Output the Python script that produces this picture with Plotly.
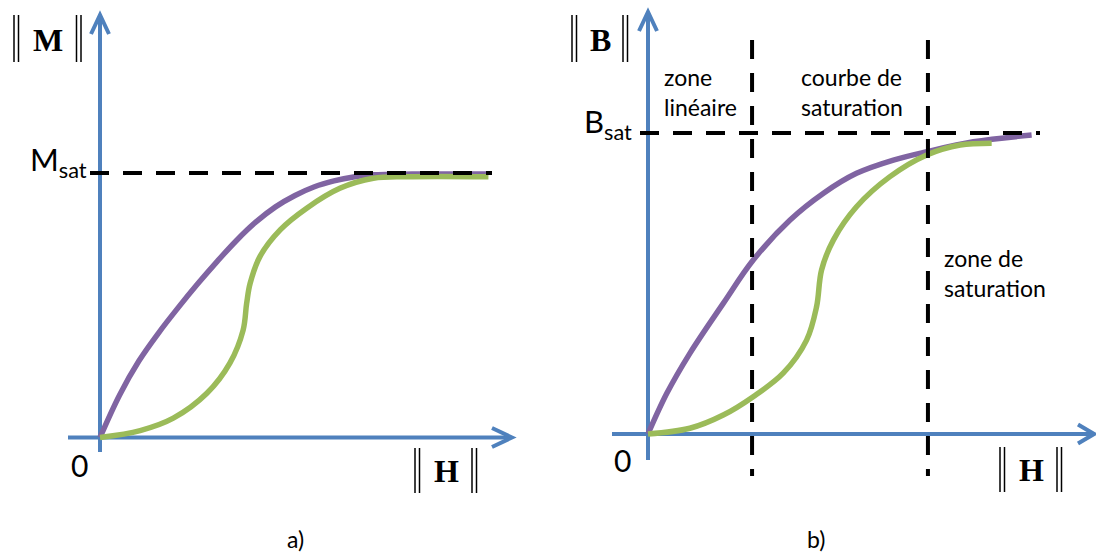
import plotly.graph_objects as go

# ---------------------------------------------------------------
# Data : courbes d'aimantation (unités arbitraires, sat = 1)
# ---------------------------------------------------------------
# a) M(H)
H_a_violet = [0.0, 0.5, 1.0, 1.5, 2.0, 2.5, 3.0, 3.5, 4.0, 4.5, 5.0, 5.5, 6.0, 6.5, 7.0, 8.0, 9.9]
M_a_violet = [0.0, 0.16, 0.29, 0.395, 0.49, 0.58, 0.665, 0.745, 0.815, 0.872, 0.915, 0.948, 0.970, 0.985, 0.993, 0.996, 0.996]
H_a_vert = [0.0, 1.03, 1.88, 2.74, 3.33, 3.67, 3.76, 3.85, 4.10, 4.62, 5.30, 6.15, 7.01, 7.86, 9.96]
M_a_vert = [0.0, 0.026, 0.073, 0.167, 0.281, 0.406, 0.507, 0.583, 0.684, 0.785, 0.867, 0.942, 0.980, 0.986, 0.986]
M_sat = 1.0

# b) B(H)
H_b_violet = [0.0, 0.49, 1.09, 1.96, 2.74, 3.70, 4.57, 5.43, 6.39, 7.26, 8.47, 9.99]
B_b_violet = [0.0, 0.135, 0.268, 0.434, 0.578, 0.711, 0.800, 0.866, 0.910, 0.938, 0.971, 0.993]
H_b_vert = [0.0, 1.09, 1.96, 2.74, 3.52, 4.13, 4.39, 4.52, 4.83, 5.43, 6.30, 7.26, 8.13, 8.95]
B_b_vert = [0.0, 0.019, 0.063, 0.124, 0.202, 0.312, 0.423, 0.545, 0.645, 0.755, 0.855, 0.927, 0.960, 0.966]
B_sat = 1.0
zone_limits = [2.71, 7.29]   # linéaire | courbe de saturation | saturation

# ---------------------------------------------------------------
# Géométrie de la figure
# ---------------------------------------------------------------
W, HT = 1096, 554
BLUE, VIOLET, GREEN = "#4f81bd", "#8064a2", "#9bbb59"
SANS, SERIF = "Lato", "Liberation Serif"

panels = {
    "a": dict(xr="x", yr="y", ox=100.0, oy=437.5, sx=39.0, sy=264.5, dom=(0.0, 0.5)),
    "b": dict(xr="x2", yr="y2", ox=648.0, oy=434.0, sx=38.4, sy=301.0, dom=(0.5, 1.0)),
}


def hx(p, px):
    """pixel column -> H value of panel p"""
    q = panels[p]
    return (px - q["ox"]) / q["sx"]


def vy(p, py):
    """pixel row -> ordinate value of panel p"""
    q = panels[p]
    return (q["oy"] - py) / q["sy"]


def paper(px, py):
    return px / W, 1 - py / HT


fig = go.Figure()

# curves
for p, hs, ys, col in [
    ("a", H_a_violet, M_a_violet, VIOLET),
    ("a", H_a_vert, M_a_vert, GREEN),
    ("b", H_b_violet, B_b_violet, VIOLET),
    ("b", H_b_vert, B_b_vert, GREEN),
]:
    q = panels[p]
    fig.add_trace(go.Scatter(
        x=hs, y=ys, mode="lines", xaxis=q["xr"], yaxis=q["yr"],
        line=dict(color=col, width=5.5, shape="spline", smoothing=1.0),
        showlegend=False, hoverinfo="skip",
    ))

shapes = []


def seg(p, x0, y0, x1, y1, color, width, dash=None, layer="above"):
    q = panels[p]
    line = dict(color=color, width=width)
    if dash:
        line["dash"] = dash
    shapes.append(dict(type="line", xref=q["xr"], yref=q["yr"],
                       x0=x0, y0=y0, x1=x1, y1=y1, line=line, layer=layer))


def chevron(p, tip, w1, w2):
    q = panels[p]
    pts = [w1, tip, w2]
    path = "M " + " L ".join(f"{hx(p, a)},{vy(p, b)}" for a, b in pts)
    shapes.append(dict(type="path", xref=q["xr"], yref=q["yr"], path=path,
                       line=dict(color=BLUE, width=4), layer="below"))


# axes with open arrow heads
# panel a
seg("a", 0, vy("a", 452), 0, vy("a", 16), BLUE, 4, layer="below")
seg("a", hx("a", 68), 0, hx("a", 511), 0, BLUE, 4, layer="below")
chevron("a", (100, 15), (91, 34), (109, 34))
chevron("a", (512, 437.5), (492, 428), (492, 447))
# panel b
seg("b", 0, vy("b", 460), 0, vy("b", 13), BLUE, 4, layer="below")
seg("b", hx("b", 612), 0, hx("b", 1093), 0, BLUE, 4, layer="below")
chevron("b", (648, 12), (639, 31), (657, 31))
chevron("b", (1094, 434), (1078, 424.5), (1078, 443.5))

# saturation levels and zone limits
DASH = "19px,14px"
seg("a", hx("a", 90), M_sat, hx("a", 492), M_sat, "black", 4, DASH)
seg("b", hx("b", 640), B_sat, hx("b", 1040), B_sat, "black", 4, DASH)
for h in zone_limits:
    seg("b", h, vy("b", 40), h, vy("b", 476), "black", 4, DASH)

# double bars of the norm symbols
for xs, y0, y1 in [
    ((14, 18.5, 76.5, 81), 15, 62),
    ((572, 576.5, 623, 627.5), 15, 62),
    ((415, 419.5, 472, 476.5), 448, 493),
    ((1000, 1004.5, 1057, 1061.5), 447, 492),
]:
    for x in xs:
        (px0, py0), (px1, py1) = paper(x, y0), paper(x, y1)
        shapes.append(dict(type="line", xref="paper", yref="paper",
                           x0=px0, y0=py0, x1=px1, y1=py1,
                           line=dict(color="black", width=1.5)))

annotations = []


def label(px, py, text, size, family=SANS, xanchor="center", yanchor="middle", align="left"):
    x, y = paper(px, py)
    annotations.append(dict(xref="paper", yref="paper", x=x, y=y, text=text,
                            showarrow=False, xanchor=xanchor, yanchor=yanchor,
                            align=align, font=dict(family=family, size=size, color="black")))


# norm letters
label(48, 40, "<b>M</b>", 32, SERIF)
label(600, 40, "<b>B</b>", 32, SERIF)
label(446, 471, "<b>H</b>", 32, SERIF)
label(1031, 470, "<b>H</b>", 32, SERIF)

# saturation values and origins
label(89, 162, "M<sub>sat</sub>", 31, xanchor="right")
label(634, 123, "B<sub>sat</sub>", 31, xanchor="right")
label(79, 465, "0", 30)
label(622, 460, "0", 30)

# zone names
label(662, 92, "zone<br>linéaire", 23, xanchor="left")
label(799, 92, "courbe de<br>saturation", 23, xanchor="left")
label(942, 273, "zone de<br>saturation", 23, xanchor="left")

# panel captions
label(295, 539, "a)", 23)
label(816, 539, "b)", 23)

axis_common = dict(visible=False, showgrid=False, zeroline=False, fixedrange=True)
fig.update_layout(
    width=W, height=HT,
    margin=dict(l=0, r=0, t=0, b=0),
    paper_bgcolor="white", plot_bgcolor="rgba(0,0,0,0)",
    xaxis=dict(domain=panels["a"]["dom"], range=[hx("a", 0), hx("a", 548)], **axis_common),
    yaxis=dict(domain=[0, 1], range=[vy("a", HT), vy("a", 0)], **axis_common),
    xaxis2=dict(domain=panels["b"]["dom"], range=[hx("b", 548), hx("b", 1096)], **axis_common),
    yaxis2=dict(domain=[0, 1], range=[vy("b", HT), vy("b", 0)], anchor="x2", **axis_common),
    shapes=shapes,
    annotations=annotations,
)

fig.write_html("out.html")
